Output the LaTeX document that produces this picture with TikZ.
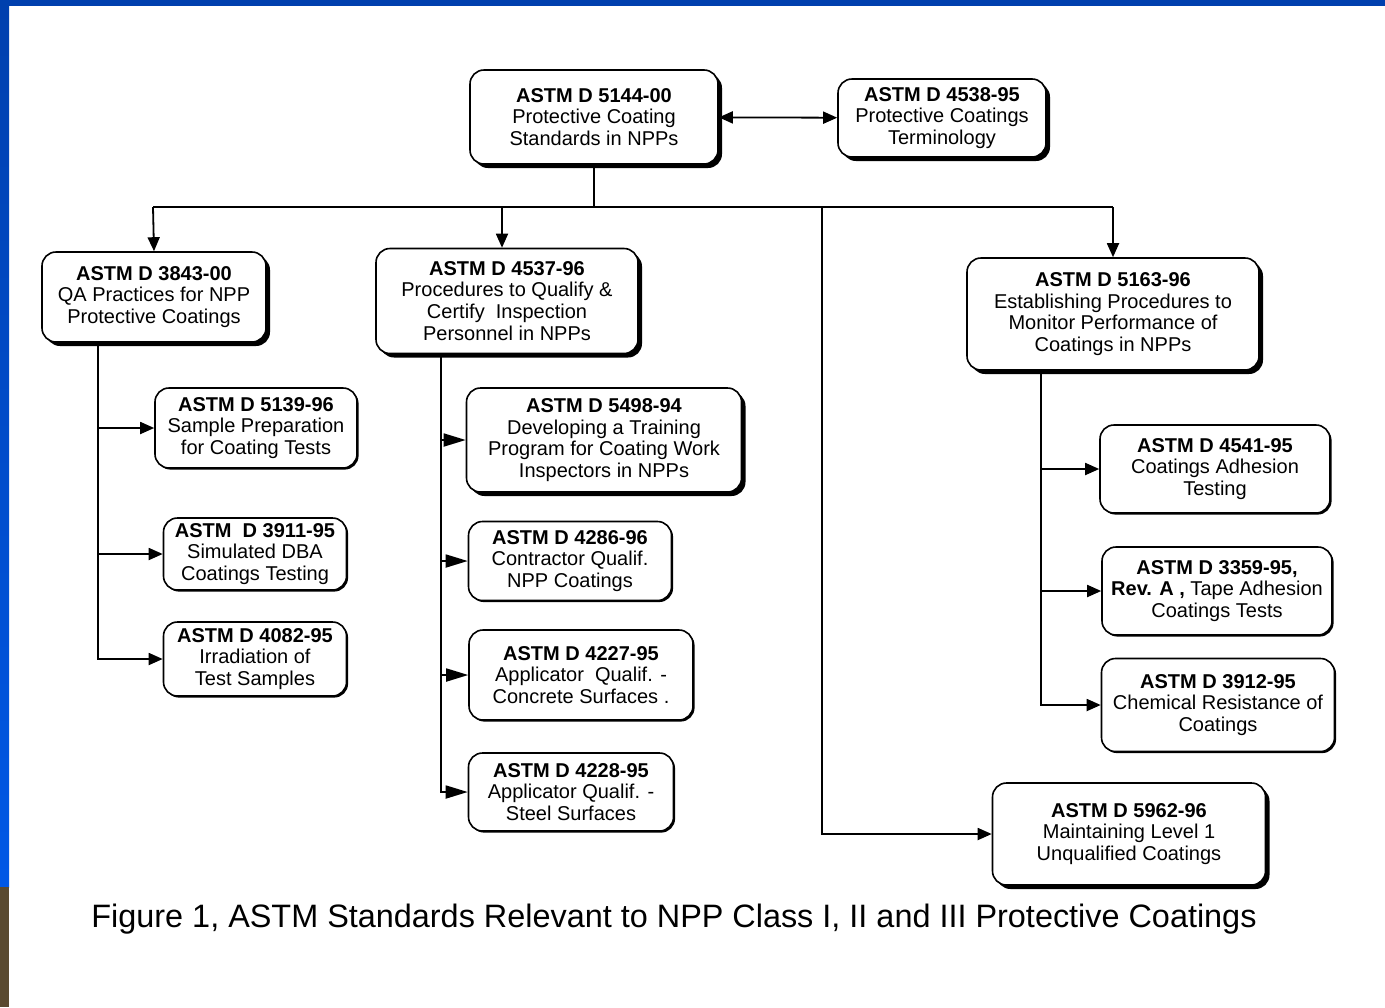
\documentclass[tikz,border=0pt]{standalone}
\usepackage{fontspec}
\setmainfont{Liberation Sans}
\usetikzlibrary{arrows.meta,shadows}

\definecolor{slideblue}{HTML}{0040AE}
\definecolor{slidebluelo}{HTML}{0058E6}
\definecolor{slidebrown}{HTML}{5A4A30}

\begin{document}
\begin{tikzpicture}[x=0.5pt, y=-0.5pt,
	box/.style={draw, rounded corners=7pt, line width=0.8pt, fill=white, align=center, inner sep=1pt,
		font=\fontsize{10}{10.9}\selectfont,
		drop shadow={shadow xshift=0.8pt, shadow yshift=-0.8pt, opacity=1, fill=black}},
	bigbox/.style={box, drop shadow={shadow xshift=2pt, shadow yshift=-2pt, opacity=1, fill=black}},
	link/.style={line width=0.9pt},
	arr/.style={link, -{Triangle[length=7pt, width=6pt]}},
	warr/.style={link, -{Triangle[length=11pt, width=6.5pt]}}]
			
			% slide frame
			\fill[white] (0,0) rectangle (1385,1007);
			\fill[slideblue] (0,0) rectangle (1385,6);
			\shade[top color=slideblue, bottom color=slidebluelo] (0,0) rectangle (9,887);
			\fill[slidebrown] (0,887) rectangle (9,1007);
			
			% top row
			\node[bigbox, minimum width=124pt, minimum height=47pt] (d5144) at (594,117) {\textbf{ASTM D 5144-00}\\Protective Coating\\Standards in NPPs};
			\node[bigbox, minimum width=104pt, minimum height=39pt] (d4538) at (942,118) {\textbf{ASTM D 4538-95}\\Protective Coatings\\Terminology};
			
			% second row
			\node[bigbox, minimum width=112pt, minimum height=45pt] (d3843) at (154,297) {\textbf{ASTM D 3843-00}\\QA Practices for NPP\\Protective Coatings};
			\node[bigbox, minimum width=131pt, minimum height=52.5pt] (d4537) at (507,301) {\textbf{ASTM D 4537-96}\\Procedures to Qualify \&\\Certify~ Inspection\\Personnel in NPPs};
			\node[bigbox, minimum width=146pt, minimum height=56pt] (d5163) at (1113,314) {\textbf{ASTM D 5163-96}\\Establishing Procedures to\\Monitor Performance of\\Coatings in NPPs};
			
			% left branch
			\node[box, minimum width=101pt, minimum height=40pt] (d5139) at (256,428) {\textbf{ASTM D 5139-96}\\Sample Preparation\\for Coating Tests};
			\node[box, minimum width=91.5pt, minimum height=36pt] (d3911) at (255,554) {\textbf{ASTM~ D 3911-95}\\Simulated DBA\\Coatings Testing};
			\node[box, minimum width=91.5pt, minimum height=37pt] (d4082) at (255,659) {\textbf{ASTM D 4082-95}\\Irradiation of\\Test Samples};
			
			% middle branch
			\node[bigbox, minimum width=137.5pt, minimum height=52pt] (d5498) at (604,440) {\textbf{ASTM D 5498-94}\\Developing a Training\\Program for Coating Work\\Inspectors in NPPs};
			\node[box, minimum width=101.5pt, minimum height=39.5pt] (d4286) at (570,561) {\textbf{ASTM D 4286-96}\\Contractor Qualif.\\NPP Coatings};
			\node[box, minimum width=112pt, minimum height=45pt] (d4227) at (581,675) {\textbf{ASTM D 4227-95}\\Applicator~ Qualif. -\\Concrete Surfaces .};
			\node[box, minimum width=102.5pt, minimum height=39pt] (d4228) at (571,792) {\textbf{ASTM D 4228-95}\\Applicator Qualif. -\\Steel Surfaces};
			
			% right branch
			\node[box, minimum width=115pt, minimum height=44pt] (d4541) at (1215,469) {\textbf{ASTM D 4541-95}\\Coatings Adhesion\\Testing};
			\node[box, minimum width=115pt, minimum height=44pt] (d3359) at (1217,591) {\textbf{ASTM D 3359-95,}\\\textbf{Rev. A ,} Tape Adhesion\\Coatings Tests};
			\node[box, minimum width=116.5pt, minimum height=46.5pt] (d3912) at (1218,705) {\textbf{ASTM D 3912-95}\\Chemical Resistance of\\Coatings};
			\node[bigbox, minimum width=136.5pt, minimum height=51pt] (d5962) at (1129,834) {\textbf{ASTM D 5962-96}\\Maintaining Level 1\\Unqualified Coatings};
			
			% caption
			\node[font=\fontsize{16.2}{18}\selectfont] (caption) at (674,919) {Figure 1, ASTM Standards Relevant to NPP Class I, II and III Protective Coatings};
			
			% bus points
			\coordinate (busL) at (153,207);
			\coordinate (busR) at (1113,207);
			\coordinate (bus5962) at (822,207);
			
			\draw[link, {Triangle[length=7pt, width=6pt]}-{Triangle[length=7pt, width=6pt]}] (d5144) to (d4538);
			\draw[link] (d5144.south) to (d5144.south |- busL);
			\draw[link] (busL) to (busR);
			\draw[arr] (busL) to (d3843.north);
			\draw[arr] ([xshift=-2.5pt]d4537.north |- busL) to ([xshift=-2.5pt]d4537.north);
			\draw[arr] (busR) to (d5163.north);
			\draw[arr] (bus5962) |- (d5962.west);
			
			\draw[arr] ([xshift=-28pt]d3843.south) |- (d5139.west);
			\draw[arr] ([xshift=-28pt]d3843.south) |- (d3911.west);
			\draw[arr] ([xshift=-28pt]d3843.south) |- (d4082.west);
			
			\draw[warr] ([xshift=-33pt]d4537.south) |- (d5498.west);
			\draw[warr] ([xshift=-33pt]d4537.south) |- (d4286.west);
			\draw[warr] ([xshift=-33pt]d4537.south) |- (d4227.west);
			\draw[warr] ([xshift=-33pt]d4537.south) |- (d4228.west);
			
			\draw[arr] ([xshift=-36pt]d5163.south) |- (d4541.west);
			\draw[arr] ([xshift=-36pt]d5163.south) |- (d3359.west);
			\draw[arr] ([xshift=-36pt]d5163.south) |- (d3912.west);
			
		\end{tikzpicture}
\end{document}
